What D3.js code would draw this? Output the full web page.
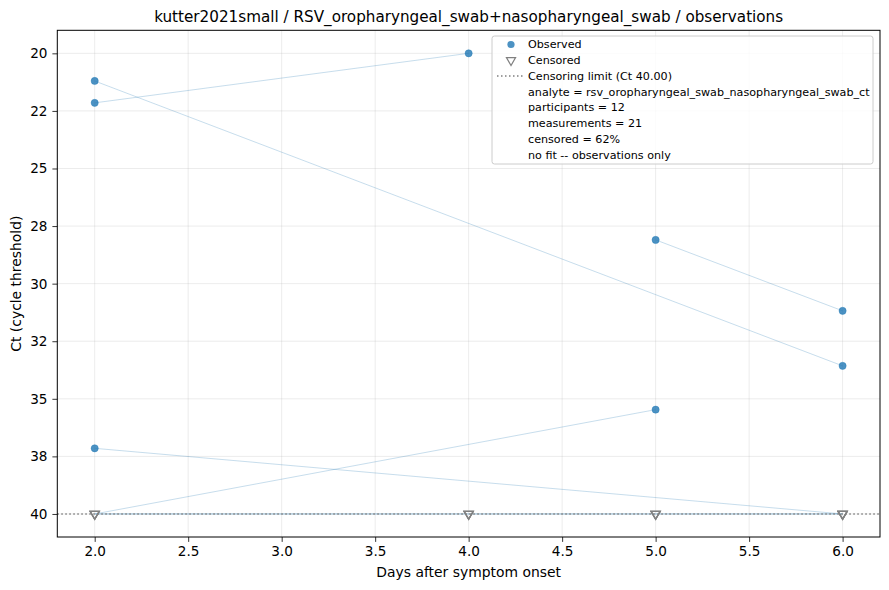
<!DOCTYPE html>
<html>
<head>
<meta charset="utf-8">
<script src="https://cdn.jsdelivr.net/npm/d3@7"></script>
<style>
  body { margin: 0; background: #fff; }
  text { font-family: "DejaVu Sans", sans-serif; fill: #000; }
</style>
</head>
<body>
<div id="chart"></div>
<script>
// participants, days after onset, Ct values, censored flags (one entry per measurement)
const participant = ["p1","p1","p2","p2","p3","p3","p4","p4","p5","p5",
                     "p6","p6","p7","p7","p8","p8","p9","p9","p10","p11","p12"];
const days =        [2, 4, 2, 6, 5, 6, 2, 5, 2, 6,
                     2, 4, 4, 5, 5, 6, 2, 6, 4, 5, 6];
const ctValues =    [22.15, 20.0, 21.2, 33.57, 28.1, 31.18, 40, 35.47, 37.15, 40,
                     40, 40, 40, 40, 40, 40, 40, 40, 40, 40, 40];
const censored =    [0, 0, 0, 0, 0, 0, 1, 0, 0, 1,
                     1, 1, 1, 1, 1, 1, 1, 1, 1, 1, 1];

const censorLimit = 40;
const yTicks = [20, 22.5, 25, 27.5, 30, 32.5, 35, 37.5, 40];
const yTickLabels = ["20", "22", "25", "28", "30", "32", "35", "38", "40"];
const xTicks = [2.0, 2.5, 3.0, 3.5, 4.0, 4.5, 5.0, 5.5, 6.0];
const legendText = [
  "analyte = rsv_oropharyngeal_swab_nasopharyngeal_swab_ct",
  "participants = 12",
  "measurements = 21",
  "censored = 62%",
  "no fit -- observations only"
];

const W = 889, H = 590;
const margin = {top: 30.3, right: 9, bottom: 53, left: 57.3};
const width = W - margin.left - margin.right,
      height = H - margin.top - margin.bottom;

const svg = d3.select("#chart").append("svg")
  .attr("width", W).attr("height", H);

const g = svg.append("g")
  .attr("transform", `translate(${margin.left},${margin.top})`);

const x = d3.scaleLinear().domain([1.8, 6.2]).range([0, width]);
const y = d3.scaleLinear().domain([19, 41]).range([0, height]);

// grid
g.append("g").selectAll("line").data(xTicks).enter().append("line")
  .attr("x1", d => x(d)).attr("x2", d => x(d))
  .attr("y1", 0).attr("y2", height)
  .attr("stroke", "#b0b0b0").attr("stroke-opacity", 0.3).attr("stroke-width", 0.8);
g.append("g").selectAll("line").data(yTicks).enter().append("line")
  .attr("y1", d => y(d)).attr("y2", d => y(d))
  .attr("x1", 0).attr("x2", width)
  .attr("stroke", "#b0b0b0").attr("stroke-opacity", 0.3).attr("stroke-width", 0.8);

// measurements table
const rows = participant.map((p, i) => ({p: p, day: days[i], ct: ctValues[i], cens: censored[i]}));
const byParticipant = d3.group(rows, d => d.p);

// trajectories
const line = d3.line().x(d => x(d.day)).y(d => y(d.ct));
g.append("g").selectAll("path")
  .data(Array.from(byParticipant.values()).filter(v => v.length > 1))
  .enter().append("path")
  .attr("d", d => line(d.sort((a, b) => a.day - b.day)))
  .attr("fill", "none")
  .attr("stroke", "#1f77b4").attr("stroke-opacity", 0.25).attr("stroke-width", 1);

// censoring limit
g.append("line")
  .attr("x1", 0).attr("x2", width)
  .attr("y1", y(censorLimit)).attr("y2", y(censorLimit))
  .attr("stroke", "#808080").attr("stroke-width", 1.5)
  .attr("stroke-dasharray", "1.5,2.5");

// observed points
g.append("g").selectAll("circle")
  .data(rows.filter(d => !d.cens)).enter().append("circle")
  .attr("cx", d => x(d.day)).attr("cy", d => y(d.ct))
  .attr("r", 3.6)
  .attr("fill", "#1f77b4").attr("fill-opacity", 0.8)
  .attr("stroke", "#1f77b4").attr("stroke-opacity", 0.8).attr("stroke-width", 0.5);

// censored points (open down-triangles)
const tri = d3.symbol().type(d3.symbolTriangle).size(36);
g.append("g").selectAll("path")
  .data(rows.filter(d => d.cens)).enter().append("path")
  .attr("d", tri)
  .attr("transform", d => `translate(${x(d.day)},${y(d.ct)}) rotate(180)`)
  .attr("fill", "none")
  .attr("stroke", "#808080").attr("stroke-width", 1.3);

// axes
const xAxis = g.append("g").attr("transform", `translate(0,${height})`)
  .call(d3.axisBottom(x).tickValues(xTicks).tickFormat(d3.format(".1f")).tickSize(4.9).tickPadding(4.9));
const yAxis = g.append("g")
  .call(d3.axisLeft(y).tickValues(yTicks).tickFormat((d, i) => yTickLabels[i]).tickSize(4.9).tickPadding(4.9));
[xAxis, yAxis].forEach(a => {
  a.select(".domain").remove();
  a.selectAll("text").style("font-size", "13.6px").style("font-family", "DejaVu Sans");
  a.selectAll("line").attr("stroke", "#000").attr("stroke-width", 0.8);
});

// frame
g.append("rect").attr("width", width).attr("height", height)
  .attr("fill", "none").attr("stroke", "#000").attr("stroke-width", 1);

// labels
svg.append("text")
  .attr("x", margin.left + width / 2).attr("y", 22)
  .attr("text-anchor", "middle").style("font-size", "15.2px")
  .text("kutter2021small / RSV_oropharyngeal_swab+nasopharyngeal_swab / observations");
svg.append("text")
  .attr("x", margin.left + width / 2).attr("y", 577)
  .attr("text-anchor", "middle").style("font-size", "13.9px")
  .text("Days after symptom onset");
svg.append("text")
  .attr("transform", `translate(21,${margin.top + height / 2}) rotate(-90)`)
  .attr("text-anchor", "middle").style("font-size", "13.9px")
  .text("Ct (cycle threshold)");

// legend
const lg = svg.append("g").attr("transform", "translate(492,36)");
lg.append("rect").attr("width", 381).attr("height", 128).attr("rx", 2.5)
  .attr("fill", "#fff").attr("fill-opacity", 0.8)
  .attr("stroke", "#cccccc").attr("stroke-width", 1);
const rowY = i => 8.5 + i * 15.75;
lg.append("circle").attr("cx", 19).attr("cy", rowY(0)).attr("r", 3.6)
  .attr("fill", "#1f77b4").attr("fill-opacity", 0.8);
lg.append("path").attr("d", tri)
  .attr("transform", `translate(19,${rowY(1)}) rotate(180)`)
  .attr("fill", "none").attr("stroke", "#808080").attr("stroke-width", 1.2);
lg.append("line").attr("x1", 5).attr("x2", 32).attr("y1", rowY(2)).attr("y2", rowY(2))
  .attr("stroke", "#808080").attr("stroke-width", 1.5).attr("stroke-dasharray", "1.5,2.5");
const entries = ["Observed", "Censored", "Censoring limit (Ct 40.00)"].concat(legendText);
lg.selectAll("text.entry").data(entries).enter().append("text")
  .attr("class", "entry")
  .attr("x", 36).attr("y", (d, i) => rowY(i))
  .attr("dy", "0.35em")
  .style("font-size", "11.15px")
  .text(d => d);
</script>
</body>
</html>
